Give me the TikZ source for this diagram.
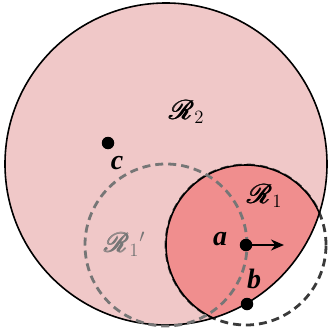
\documentclass[tikz,border=0pt]{standalone}
\usepackage{fontspec}
\setmainfont{Liberation Serif}
\usepackage{amsmath}
\usepackage{mathrsfs}
\usetikzlibrary{arrows.meta}

\definecolor{outerpink}{RGB}{240,200,200}
\definecolor{innerpink}{RGB}{240,142,142}
\definecolor{ghostgray}{RGB}{118,118,118}
\definecolor{edgedark}{RGB}{58,58,58}

\newcommand{\regR}{\pmb{\mathscr{R}}}

\tikzset{
  dot/.style={circle, fill=black, inner sep=0pt, minimum size=12.5pt},
  ptlabel/.style={font=\fontsize{28}{32}\selectfont\bfseries\itshape, inner sep=0pt, anchor=base},
  reglabel/.style={font=\huge, inner sep=0pt, scale=1.3, transform shape},
  dashline/.style={dash pattern=on 8pt off 5pt, line width=2.8pt},
  rim/.style={line width=1.6pt},
}

\begin{document}
\begin{tikzpicture}[x=1pt, y=-1pt, >={Stealth[length=13pt,width=11pt]}]
    \useasboundingbox (0,0) rectangle (330,332);

    \coordinate (bigc) at (166,164);
    \coordinate (a) at (246,245);
    \coordinate (shiftc) at (166,245);

    % region R2 and the moved region R1
    \fill[outerpink] (bigc) circle (161pt);
    \draw[edgedark, dashline] (a) circle (80pt);
    \begin{scope}
      \clip (bigc) circle (161pt);
      \fill[innerpink] (a) circle (80pt);
      \draw[rim] (a) circle (80pt);
    \end{scope}
    \draw[rim] (bigc) circle (161pt);
    \draw[ghostgray, dashline] (shiftc) circle (81pt);

    % points
    \node[dot] (adot) at (a) {};
    \node[dot] (bdot) at (247,304) {};
    \node[dot] (cdot) at (108,143) {};
    \coordinate (tip) at (284,245);
    \draw[->, line width=2pt] (adot) -- (tip);

    % labels
    \node[ptlabel] (alabel) at (220,245) {a};
    \node[ptlabel] (blabel) at (254,288) {b};
    \node[ptlabel] (clabel) at (117,169) {c};
    \node[reglabel] (Rtwo) at (187,112) {$\regR_2$};
    \node[reglabel] (Rone) at (265,196) {$\regR_1$};
    \node[reglabel, ghostgray] (Ronep) at (125,244) {$\regR_1{}'$};
\end{tikzpicture}
\end{document}
